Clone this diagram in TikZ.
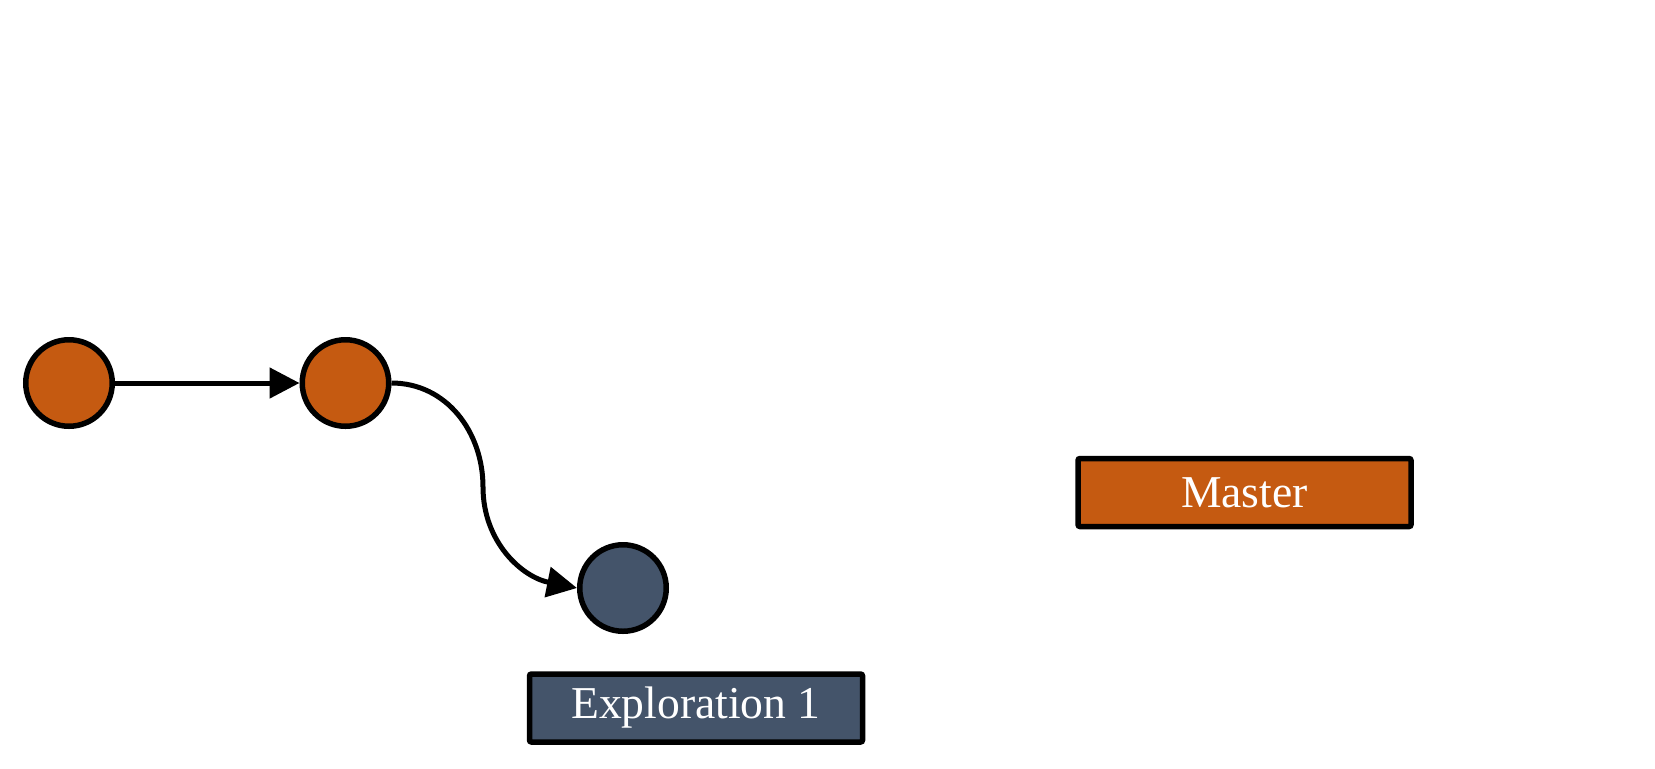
\documentclass[tikz,border=0pt]{standalone}
\usepackage{fontspec}
\setmainfont{Liberation Serif}
\usetikzlibrary{arrows.meta}
\definecolor{masterorange}{HTML}{C55A11}
\definecolor{exploreblue}{HTML}{44546A}
\begin{document}
\begin{tikzpicture}[x=0.5pt, y=-0.5pt]
            \tikzset{commit/.style={circle, draw=black, line width=2.75pt, minimum size=43.25pt, inner sep=0pt},
                     branch/.style={rectangle, rounded corners=1pt, draw=black, line width=2.75pt, minimum width=166.5pt, minimum height=34pt, text=white, font=\fontsize{22.8}{27}\selectfont},
                     link/.style={line width=2.5pt, -{Triangle[length=15pt, width=15pt]}}}
            \useasboundingbox (0, 0) rectangle (1655, 768);
            \node [commit, fill=masterorange] (m1) at (69, 383) {};
            \node [commit, fill=masterorange] (m2) at (345.5, 383) {};
            \node [commit, fill=exploreblue] (e1) at (623, 588) {};
            \coordinate (bend) at (483, 487);
            \draw[link] (m1.east) -- (m2.west);
            \draw[link] (m2.east) .. controls +(55, 0) and +(0, -55) .. (bend)
                .. controls +(0, 55) and +(-55, -11) .. (e1.west);
            \node [branch, fill=masterorange] (master) at (1244.5, 492.5) {Master};
            \node [branch, fill=exploreblue] (explore) at (696, 708) {Exploration 1};
        \end{tikzpicture}
\end{document}
